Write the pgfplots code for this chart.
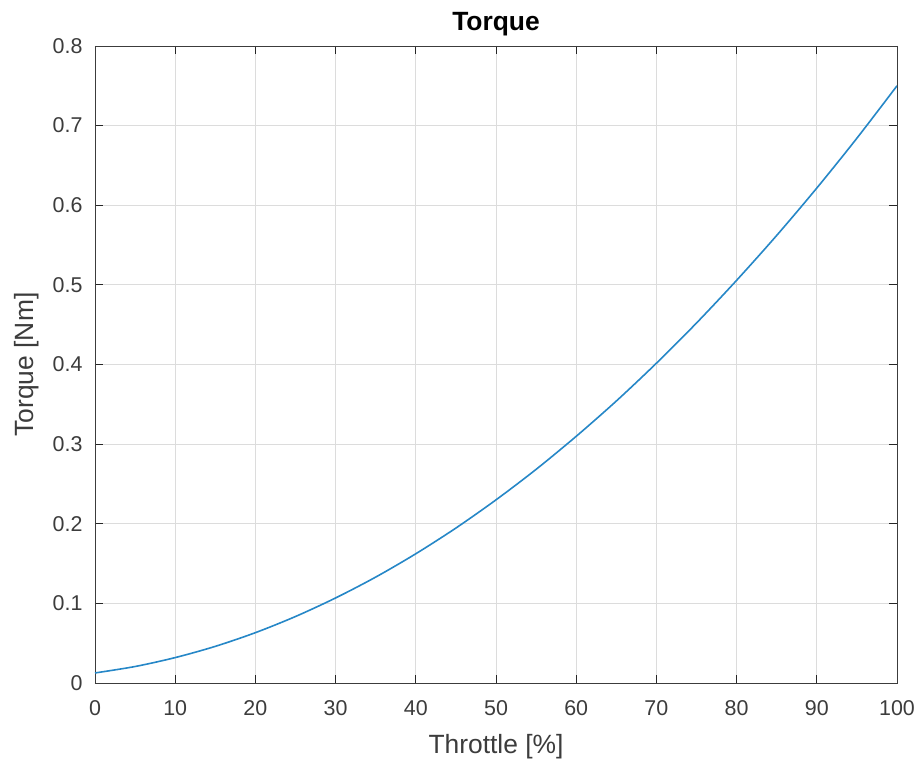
\documentclass[border=0pt]{standalone}
\usepackage{fontspec}
\setmainfont{Liberation Sans}
\usepackage{pgfplots}
\pgfplotsset{compat=1.18}
\definecolor{mblue}{rgb}{0,0.447,0.741}
\definecolor{axgray}{HTML}{262626}
\definecolor{gridgray}{HTML}{DCDCDC}
\begin{document}
\begin{tikzpicture}
\begin{axis}[
  scale only axis,
  width=802bp, height=637bp,
  xmin=0, xmax=100, ymin=0, ymax=0.8,
  xtick={0,10,...,100},
  ytick={0,0.1,...,0.8},
  yticklabel style={/pgf/number format/fixed, /pgf/number format/precision=1},
  /pgf/number format/assume math mode=true,
  tick align=inside,
  major tick length=8bp,
  tick style={axgray, line width=0.8bp},
  axis line style={axgray!90, line width=0.8bp},
  grid=major,
  major grid style={gridgray, line width=0.8bp},
  ticklabel style={font=\fontsize{21.5}{24}\selectfont, text=axgray!90},
  xticklabel style={yshift=-14bp},
  yticklabel style={xshift=-9bp},
  every axis x label/.style={at={(rel axis cs:0.5,0)}, anchor=north, inner sep=0pt, yshift=-51bp, font=\fontsize{26.5}{30}\selectfont, text=axgray!90},
  every axis y label/.style={at={(rel axis cs:0,0.5)}, rotate=90, anchor=north, inner sep=0pt, yshift=81bp, font=\fontsize{26.5}{30}\selectfont, text=axgray!90},
  every axis title/.style={at={(rel axis cs:0.5,1)}, anchor=north, inner sep=0pt, yshift=34bp, font=\fontsize{26.5}{30}\selectfont\bfseries},
  xlabel={Throttle [\%]},
  ylabel={Torque [Nm]},
  title={Torque},
]
\addplot[mblue!85!white, line width=1.6bp, smooth] coordinates {
(0,0.0126) (5,0.0207) (10,0.0319) (15,0.0460) (20,0.0632) (25,0.0835)
(30,0.1068) (35,0.1330) (40,0.1623) (45,0.1946) (50,0.2300) (55,0.2683)
(60,0.3098) (65,0.3541) (70,0.4016) (75,0.4521) (80,0.5057) (85,0.5621)
(90,0.6216) (95,0.6842) (100,0.7500)
};
\end{axis}
\path ([shift={(-95bp,-83bp)}]current axis.south west) rectangle ([shift={(25bp,46bp)}]current axis.north east);
\end{tikzpicture}
\end{document}
